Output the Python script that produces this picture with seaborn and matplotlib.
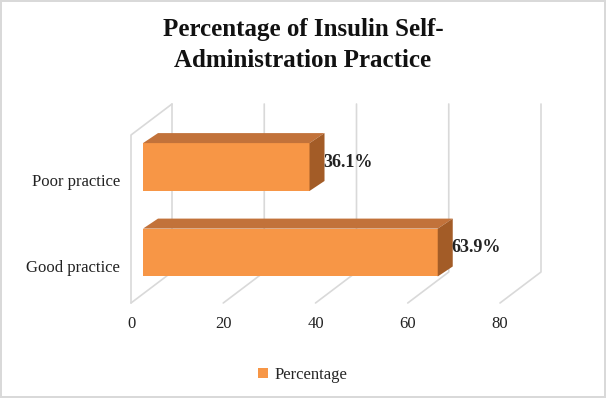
import matplotlib
matplotlib.use("Agg")
import matplotlib.pyplot as plt
import matplotlib.transforms as mtransforms
from matplotlib.patches import Polygon, Patch
from matplotlib.lines import Line2D
import pandas as pd
import seaborn as sns

categories = ["Poor practice", "Good practice"]
percentages = [36.1, 63.9]
x_ticks = [0, 20, 40, 60, 80]
series_name = "Percentage"

df = pd.DataFrame({"practice": categories, "percentage": percentages})

front_col = "#F79646"
top_col = "#C2723A"
side_col = "#A35C27"
grid_col = "#D9D9D9"

sns.set_theme(style="white")
plt.rcParams["font.family"] = ["Liberation Serif", "DejaVu Serif"]

fig = plt.figure(figsize=(6.06, 3.98), dpi=100)
fig.patch.set_edgecolor(grid_col)
fig.patch.set_linewidth(1.5)
ax = fig.add_axes([131 / 606, 95 / 398, 369 / 606, 168 / 398])

# depth offsets in pixels (right, up) from the front plane
bar_off = (12, 9)
depth = (15, 10)
back_off = (41, 31)

sns.barplot(data=df, x="percentage", y="practice", order=categories, orient="h",
            width=0.56, color=front_col, saturation=1, errorbar=None, ax=ax, zorder=3)
ax.set_xlim(0, 80)
ax.set_ylim(1.485, -0.48)
ax.set_autoscale_on(False)
ax.set_xticks(x_ticks)
ax.set_xlabel("")
ax.set_ylabel("")
ax.tick_params(axis="both", length=0, labelsize=12, colors="#222222")
ax.tick_params(axis="x", pad=9)
ax.tick_params(axis="y", pad=8)
for s in ax.spines.values():
    s.set_visible(False)
ax.grid(False)
ax.patch.set_alpha(0)

shift = mtransforms.ScaledTranslation(0, -4 / 100, fig.dpi_scale_trans)
for lbl in ax.get_yticklabels():
    lbl.set_transform(lbl.get_transform() + shift)


def disp(x, y, off):
    p = ax.transData.transform((x, y))
    return (p[0] + off[0], p[1] + off[1])


ident = mtransforms.IdentityTransform()
y_floor, y_top = ax.get_ylim()

# back wall grid lines and floor diagonals
for t in x_ticks:
    a = disp(t, y_floor, back_off)
    b = disp(t, y_top, back_off)
    c = disp(t, y_floor, (0, 0))
    ax.add_artist(Line2D([c[0], a[0], b[0]], [c[1], a[1], b[1]], color=grid_col, lw=1.2,
                         transform=ident, zorder=1, clip_on=False))

# left side wall
p1 = disp(0, y_floor, (0, 0))
p2 = disp(0, y_top, (0, 0))
p3 = disp(0, y_top, back_off)
ax.add_artist(Line2D([p1[0], p2[0], p3[0]], [p1[1], p2[1], p3[1]], color=grid_col,
                     lw=1.2, transform=ident, zorder=1, clip_on=False))

# bars: shift front faces and add top and side faces
bar_tr = mtransforms.offset_copy(ax.transData, fig, x=bar_off[0], y=bar_off[1], units="dots")
back_bar = (bar_off[0] + depth[0], bar_off[1] + depth[1])
for patch, val in list(zip(ax.patches, percentages)):
    patch.set_transform(bar_tr)
    patch.set_edgecolor("none")
    patch.set_clip_on(False)
    x0 = patch.get_x()
    w = patch.get_width()
    y0 = patch.get_y()
    h = patch.get_height()
    ytop = min(y0, y0 + h)
    ybot = max(y0, y0 + h)
    top_face = [disp(x0, ytop, bar_off), disp(x0 + w, ytop, bar_off),
                disp(x0 + w, ytop, back_bar), disp(x0, ytop, back_bar)]
    side_face = [disp(x0 + w, ytop, bar_off), disp(x0 + w, ybot, bar_off),
                 disp(x0 + w, ybot, back_bar), disp(x0 + w, ytop, back_bar)]
    ax.add_artist(Polygon(top_face, closed=True, facecolor=top_col, edgecolor="none",
                          transform=ident, zorder=4, clip_on=False))
    ax.add_artist(Polygon(side_face, closed=True, facecolor=side_col, edgecolor="none",
                          transform=ident, zorder=4, clip_on=False))
    lab_tr = mtransforms.offset_copy(ax.transData, fig, x=back_bar[0] - 1,
                                     y=bar_off[1] + depth[1] / 2, units="dots")
    ax.text(x0 + w, y0 + h / 2, f"{val}%", transform=lab_tr, ha="left", va="center",
            fontsize=13, fontweight="bold", color="#222222", zorder=5)

fig.text(0.5, 0.887, "Percentage of Insulin Self-\nAdministration Practice",
         ha="center", va="center", fontsize=18, fontweight="bold",
         linespacing=1.45, color="#111111")

fig.legend(handles=[Patch(facecolor=front_col, edgecolor="none", label=series_name)],
           loc="center", bbox_to_anchor=(0.5, 0.058), frameon=False,
           handlelength=0.6, handleheight=0.6, handletextpad=0.4,
           prop={"size": 12})

fig.savefig("out.png", dpi=100)
